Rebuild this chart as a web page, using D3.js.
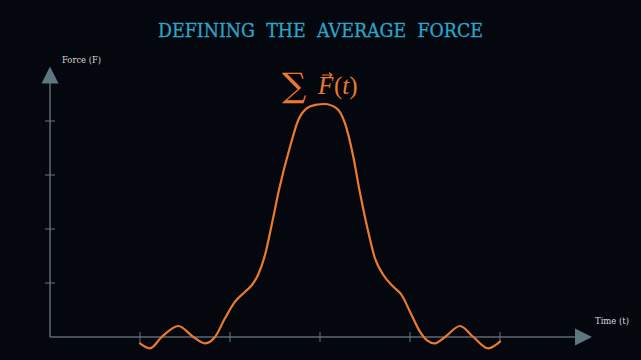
<!DOCTYPE html>
<html>
<head>
<meta charset="utf-8">
<script src="https://cdn.jsdelivr.net/npm/d3@7"></script>
<style>
  html, body { margin: 0; padding: 0; background: #05070f; }
  svg { display: block; }
</style>
</head>
<body>
<script>
// ---- data ----
const title = "DEFINING THE AVERAGE FORCE";
const xLabel = "Time (t)";
const yLabel = "Force (F)";
const xTicks = [1, 2, 3, 4, 5];
const yTicks = [1, 2, 3, 4];
const timeValues = [1.0, 1.111, 1.241, 1.426, 1.593, 1.722, 1.833, 1.944, 2.056, 2.167, 2.244, 2.311, 2.389, 2.463, 2.544, 2.667, 2.759, 2.852, 2.95, 3.05, 3.185, 3.278, 3.370, 3.438, 3.519, 3.611, 3.704, 3.815, 3.907, 4.0, 4.111, 4.185, 4.278, 4.389, 4.556, 4.704, 4.870, 5.0];
const forceValues = [-0.117, -0.209, 0.0, 0.204, 0.0, -0.117, 0.0, 0.346, 0.654, 0.839, 0.963, 1.148, 1.519, 2.074, 2.722, 3.524, 4.019, 4.235, 4.30, 4.315, 4.235, 3.957, 3.339, 2.722, 2.074, 1.457, 1.148, 0.931, 0.778, 0.469, 0.098, -0.056, -0.117, 0.0, 0.204, 0.0, -0.209, -0.087];

const W = 641, H = 360;
const svg = d3.select("body").append("svg").attr("width", W).attr("height", H);
svg.append("rect").attr("width", W).attr("height", H).attr("fill", "#05070f");

const x = d3.scaleLinear().domain([0, 6]).range([50, 590]);
const y = d3.scaleLinear().domain([0, 4]).range([337, 121]);

const axisColor = "#5b6970";
const arrowColor = "#5e7680";

// title
svg.append("text")
  .attr("x", 158).attr("y", 37)
  .attr("textLength", 325).attr("lengthAdjust", "spacingAndGlyphs")
  .attr("font-family", "DejaVu Serif, serif")
  .attr("font-size", 18.5)
  .attr("word-spacing", 6)
  .attr("fill", "#2aa6c8")
  .attr("stroke", "#2aa6c8").attr("stroke-width", 0.3)
  .text(title);

// axes lines
svg.append("line").attr("x1", x(0)).attr("x2", 576).attr("y1", y(0)).attr("y2", y(0))
  .attr("stroke", axisColor).attr("stroke-width", 1.5);
svg.append("line").attr("x1", x(0)).attr("x2", x(0)).attr("y1", y(0)).attr("y2", 83)
  .attr("stroke", axisColor).attr("stroke-width", 1.5);

// arrows
svg.append("path").attr("d", `M${x(0)-8.5},83.5 L${x(0)+8.5},83.5 L${x(0)},66.5 Z`).attr("fill", arrowColor);
svg.append("path").attr("d", `M575,${y(0)-8.5} L575,${y(0)+8.5} L592,${y(0)} Z`).attr("fill", arrowColor);

// ticks
svg.selectAll(".xt").data(xTicks).enter().append("line")
  .attr("x1", d => x(d)).attr("x2", d => x(d)).attr("y1", y(0) - 5).attr("y2", y(0) + 5)
  .attr("stroke", "#6b777d").attr("stroke-width", 1);
svg.selectAll(".yt").data(yTicks).enter().append("line")
  .attr("y1", d => y(d)).attr("y2", d => y(d)).attr("x1", x(0) - 5).attr("x2", x(0) + 5)
  .attr("stroke", "#6b777d").attr("stroke-width", 1);

// axis labels
svg.append("text").attr("x", 62).attr("y", 63)
  .attr("font-family", "DejaVu Serif, serif").attr("font-size", 10).attr("fill", "#d8d8d8")
  .attr("textLength", 39).attr("lengthAdjust", "spacingAndGlyphs")
  .text(yLabel);
svg.append("text").attr("x", 595).attr("y", 324)
  .attr("font-family", "DejaVu Serif, serif").attr("font-size", 10).attr("fill", "#d8d8d8")
  .attr("textLength", 34).attr("lengthAdjust", "spacingAndGlyphs")
  .text(xLabel);

// curve
const pts = timeValues.map((t, i) => [t, forceValues[i]]);
const line = d3.line().x(d => x(d[0])).y(d => y(d[1])).curve(d3.curveMonotoneX);
svg.append("path").attr("d", line(pts))
  .attr("fill", "none").attr("stroke", "#ec7a2e").attr("stroke-width", 2.2)
  .attr("stroke-linejoin", "round").attr("stroke-linecap", "round");

// formula label
const orange = "#ec7a2e";
const f = svg.append("g");
f.append("text").attr("x", 282).attr("y", 97)
  .attr("font-family", "DejaVu Serif, serif").attr("font-size", 34).attr("fill", orange)
  .attr("font-weight", 300)
  .text("\u2211");
f.append("text").attr("x", 318).attr("y", 94)
  .attr("font-family", "Liberation Serif, serif").attr("font-size", 25).attr("fill", orange)
  .attr("font-style", "italic")
  .text("F");
f.append("path").attr("d", "M322,75 L332,75 M329,72.5 L332,75 L329,77.5")
  .attr("stroke", orange).attr("stroke-width", 1.1).attr("fill", "none");
const pt = f.append("text").attr("x", 334).attr("y", 94)
  .attr("font-family", "Liberation Serif, serif").attr("font-size", 25).attr("fill", orange);
pt.append("tspan").text("(");
pt.append("tspan").attr("font-style", "italic").text("t");
pt.append("tspan").text(")");
</script>
</body>
</html>
